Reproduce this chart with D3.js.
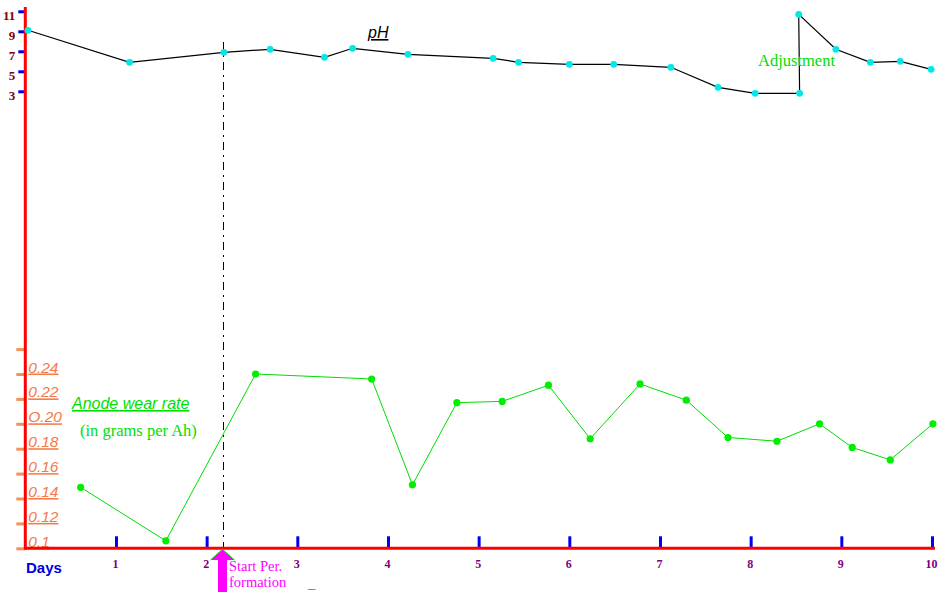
<!DOCTYPE html>
<html>
  <head>
    <meta charset="utf-8">
    <title>pH and anode wear rate</title>
    <style>
      body { margin: 0; background: #fff; }
      svg { display: block; }
    </style>
  </head>
  <body>
    <script src="https://d3js.org/d3.v7.min.js"></script>
    <svg id="chart" width="940" height="592"></svg>
    <script>
      // days on the x axis
      const dayTicks = [1, 2, 3, 4, 5, 6, 7, 8, 9, 10]

      // pH curve (top)
      const phDays   = [0.03, 1.15, 2.19, 2.70, 3.30, 3.61, 4.22, 5.16, 5.44, 6.00, 6.49, 7.12, 7.64, 8.05, 8.54, 8.53, 8.94, 9.32, 9.65, 9.99]
      const phValues = [9.1, 5.9, 6.9, 7.2, 6.4, 7.3, 6.7, 6.3, 5.9, 5.7, 5.7, 5.4, 3.4, 2.8, 2.8, 10.7, 7.2, 5.9, 6.0, 5.2]
      const phTicks  = [3, 5, 7, 9, 11]

      // anode wear rate, grams per Ah (bottom)
      const wearDays   = [0.61, 1.55, 2.54, 3.82, 4.27, 4.76, 5.26, 5.77, 6.23, 6.78, 7.29, 7.75, 8.29, 8.76, 9.12, 9.54, 10.01]
      const wearValues = [0.149, 0.106, 0.240, 0.236, 0.151, 0.217, 0.218, 0.231, 0.188, 0.232, 0.219, 0.189, 0.186, 0.200, 0.181, 0.171, 0.200]
      const wearTicks      = [0.10, 0.12, 0.14, 0.16, 0.18, 0.20, 0.22, 0.24, 0.26]
      const wearTickLabels = ["0.1", "0.12", "0.14", "0.16", "0.18", "O.20", "0.22", "0.24", ""]

      // start of periodic formation
      const startDay = 2.19

      const svg = d3.select('#chart')
      const serif = '"Liberation Serif", "Times New Roman", serif'
      const sans = '"Liberation Sans", Arial, sans-serif'

      const x = d3.scaleLinear().domain([0, 10]).range([25.3, 932])
      const yPh = d3.scaleLinear().domain([3, 11]).range([91.3, 11.3])
      const yWear = d3.scaleLinear().domain([0.10, 0.24]).range([548.3, 374])

      const baseY = yWear(0.10)
      const startX = Math.round(x(startDay)) - 0.5

      // dash-dot line at start of formation
      svg.append('line')
        .attr('x1', startX).attr('x2', startX)
        .attr('y1', 42).attr('y2', baseY)
        .attr('stroke', '#000')
        .attr('stroke-width', 1)
        .attr('shape-rendering', 'crispEdges')
        .attr('stroke-dasharray', '8,5,2,5')

      // x axis: blue ticks upwards, purple labels below
      const xAxis = svg.append('g')
        .attr('transform', `translate(0,${baseY})`)
        .call(d3.axisBottom(x).tickValues(dayTicks).tickSizeInner(-12).tickSizeOuter(0).tickPadding(11.5))
      xAxis.select('.domain').remove()
      xAxis.selectAll('.tick line').attr('stroke', '#0000ee').attr('stroke-width', 3)
      xAxis.selectAll('.tick text')
        .attr('x', -1)
        .attr('fill', '#800080')
        .style('font-family', serif)
        .style('font-weight', 'bold')
        .style('font-size', '12px')

      // pH axis ticks
      const phAxis = svg.append('g')
        .attr('transform', `translate(${x(0)},0)`)
        .call(d3.axisLeft(yPh).tickValues(phTicks).tickSizeInner(7).tickSizeOuter(0).tickPadding(3))
      phAxis.select('.domain').remove()
      phAxis.selectAll('.tick line').attr('stroke', '#0000ee').attr('stroke-width', 3)
      phAxis.selectAll('.tick text')
        .attr('dy', '0.6em')
        .attr('fill', '#800000')
        .style('font-family', serif)
        .style('font-weight', 'bold')
        .style('font-size', '13px')

      // wear rate axis ticks, labels to the right of the axis
      const wearAxis = svg.append('g')
        .attr('transform', `translate(${x(0)},0)`)
        .call(d3.axisLeft(yWear).tickValues(wearTicks).tickSizeInner(9).tickSizeOuter(0)
          .tickFormat((d, i) => wearTickLabels[i]))
      wearAxis.select('.domain').remove()
      wearAxis.selectAll('.tick line')
        .attr('stroke', '#f4905a').attr('stroke-width', 3)
      wearAxis.selectAll('.tick text')
        .attr('x', 3)
        .attr('dy', -2)
        .attr('text-anchor', 'start')
        .attr('fill', '#f47a48')
        .style('font-family', sans)
        .style('font-style', 'italic')
        .style('font-size', '15.5px')
        .style('text-decoration', 'underline')

      // red axis lines
      svg.append('line')
        .attr('x1', x(0)).attr('x2', x(0))
        .attr('y1', 7).attr('y2', baseY + 1.5)
        .attr('stroke', '#ff0000').attr('stroke-width', 3)
      svg.append('line')
        .attr('x1', x(0)).attr('x2', 935)
        .attr('y1', baseY).attr('y2', baseY)
        .attr('stroke', '#ff0000').attr('stroke-width', 3)

      // pH line
      const phData = phDays.map((d, i) => [d, phValues[i]])
      svg.append('path')
        .datum(phData)
        .attr('d', d3.line().x(d => x(d[0])).y(d => yPh(d[1])))
        .attr('fill', 'none')
        .attr('stroke', '#000')
        .attr('stroke-width', 1.2)
      svg.selectAll('.ph-dot')
        .data(phData)
        .join('circle')
        .attr('class', 'ph-dot')
        .attr('cx', d => x(d[0]))
        .attr('cy', d => yPh(d[1]))
        .attr('r', 3.4)
        .attr('fill', '#00e8e8')

      // wear rate line
      const wearData = wearDays.map((d, i) => [d, wearValues[i]])
      svg.append('path')
        .datum(wearData)
        .attr('d', d3.line().x(d => x(d[0])).y(d => yWear(d[1])))
        .attr('fill', 'none')
        .attr('stroke', '#00dd00')
        .attr('stroke-width', 1)
      svg.selectAll('.wear-dot')
        .data(wearData)
        .join('circle')
        .attr('class', 'wear-dot')
        .attr('cx', d => x(d[0]))
        .attr('cy', d => yWear(d[1]))
        .attr('r', 3.6)
        .attr('fill', '#00ee00')

      // magenta arrow under the start of formation
      const ax = startX - 1
      svg.append('path')
        .attr('d', `M${ax - 4.5},592 L${ax - 4.5},560 L${ax - 12},560 L${ax},${baseY + 1} L${ax + 12},560 L${ax + 4.5},560 L${ax + 4.5},592 Z`)
        .attr('fill', '#ff00ff')
      svg.append('path')
        .attr('d', `M${ax - 12},560 L${ax},${baseY + 1} L${ax + 12},560`)
        .attr('fill', 'none')
        .attr('stroke', '#00dd00')
        .attr('stroke-width', 1)

      // texts
      const label = (t, px, py, color, family, size, style, deco) => svg.append('text')
        .attr('x', px).attr('y', py)
        .attr('fill', color)
        .style('font-family', family)
        .style('font-size', size)
        .style('font-style', style || 'normal')
        .style('text-decoration', deco || 'none')
        .text(t)

      label('pH', 368, 38, '#000', sans, '16px', 'italic', 'underline')
      label('Adjustment', 758, 66, '#00e000', serif, '16.5px')
      label('Anode wear rate', 72, 409, '#00e000', sans, '16px', 'italic', 'underline')
      label('(in grams per Ah)', 80, 436, '#00e000', serif, '16.5px')

      // two-line note beside the arrow
      label('Start Per.', 229, 571, '#ff00ff', serif, '14.5px')
      label('formation', 229, 587, '#ff00ff', serif, '14.5px')

      label('_', 308, 588, '#ff00ff', serif, '15px')
      label('Days', 26, 573, '#0000dd', sans, '15px').style('font-weight', 'bold')
    </script>
  </body>
</html>
